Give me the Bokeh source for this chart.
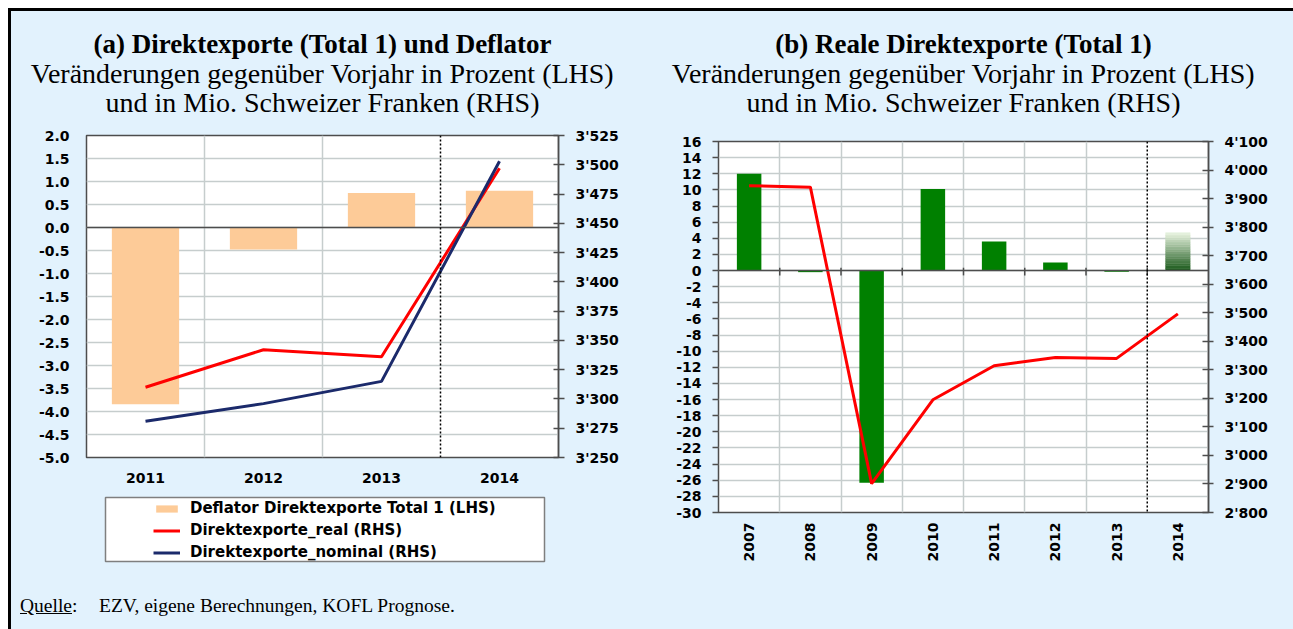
import math
import numpy as np
from bokeh.plotting import figure
from bokeh.models import (Range1d, LinearAxis, FixedTicker, Span, Legend, LegendItem,
                          Title, Div)
from bokeh.layouts import column, row
from bokeh.embed import file_html
from bokeh.resources import INLINE

# ---------------- data ----------------
years_a = ["2011", "2012", "2013", "2014"]
deflator_a = [-3.84, -0.48, 0.75, 0.80]
real_a = [3310, 3342, 3336, 3497]
nominal_a = [3281, 3296, 3315, 3503]
forecast_a = "2014"

years_b = ["2007", "2008", "2009", "2010", "2011", "2012", "2013", "2014"]
growth_b = [12.0, -0.2, -26.3, 10.1, 3.6, 1.0, -0.15, 4.7]
real_b = [3945, 3940, 2901, 3195, 3314, 3343, 3340, 3496]
forecast_b = "2014"

lhs_ticks_a = [x / 2 for x in range(-10, 5)]
rhs_ticks_a = list(range(3250, 3526, 25))
lhs_ticks_b = list(range(-30, 17, 2))
rhs_ticks_b = list(range(2800, 4101, 100))

title_a = ["(a) Direktexporte (Total 1) und Deflator",
           "Veränderungen gegenüber Vorjahr in Prozent (LHS)",
           "und in Mio. Schweizer Franken (RHS)"]
title_b = ["(b) Reale Direktexporte (Total 1)",
           "Veränderungen gegenüber Vorjahr in Prozent (LHS)",
           "und in Mio. Schweizer Franken (RHS)"]
legend_labels = ["Deflator Direktexporte Total 1 (LHS)",
                 "Direktexporte_real (RHS)",
                 "Direktexporte_nominal (RHS)"]

# ---------------- style ----------------
BG = "#E2F2FD"
GRID = "#C6CDCD"
FRAME = "#4D4D4D"
ORANGE = "#FDCB98"
NAVY = "#1B2A6B"
RED = "#FF0000"
GREEN = "#008000"
TICK_FONT = "DejaVu Sans"


def apostrophe(v):
    return f"{int(v):,}".replace(",", "'")


def style_axis(ax):
    ax.major_label_text_font = TICK_FONT
    ax.major_label_text_font_style = "bold"
    ax.major_label_text_font_size = "14px"
    ax.major_label_text_color = "black"
    ax.minor_tick_line_color = None
    ax.axis_line_color = None
    ax.major_tick_line_color = FRAME
    ax.major_tick_line_width = 1.5


def make_title(text, size, style, standoff):
    kw = dict(text=text, align="center", text_font="Liberation Serif",
              text_font_size=size, text_font_style=style, text_color="black")
    try:
        return Title(standoff=standoff, **kw)
    except Exception:
        return Title(standoff=0, **kw)


def add_titles(p, lines, gap):
    # spacer between frame and the title block
    p.add_layout(make_title(" ", "1px", "normal", gap), "above")
    n = len(lines)
    for i, t in enumerate(reversed(lines)):
        bold = (i == n - 1)
        p.add_layout(make_title(t, "27px" if bold else "28px",
                                "bold" if bold else "normal",
                                -3 if bold else -4), "above")


def base_fig(width, height, nx, ylo, yhi, rlo, rhi, mb):
    p = figure(width=width, height=height, title=None,
               x_range=Range1d(-0.5, nx - 0.5), y_range=Range1d(ylo, yhi),
               output_backend="svg", toolbar_location=None,
               min_border_left=mb[0], min_border_right=mb[1],
               min_border_top=mb[2], min_border_bottom=mb[3],
               background_fill_color="white", border_fill_color=BG,
               outline_line_color=FRAME, outline_line_width=1.5)
    p.extra_y_ranges = {"rhs": Range1d(rlo, rhi)}
    p.ygrid.grid_line_color = GRID
    p.ygrid.grid_line_width = 1.5
    p.xgrid.grid_line_color = GRID
    p.xgrid.grid_line_width = 1.5
    return p


# ================= chart (a) =================
xa = list(range(len(years_a)))
p1 = base_fig(629, 480, len(years_a), -5, 2, 3250, 3525, (75, 82, 124, 34))

p1.vbar(x=xa, top=deflator_a, bottom=0, width=0.57, fill_color=ORANGE, line_color=None)
p1.line(xa, real_a, y_range_name="rhs", line_color=RED, line_width=3)
p1.line(xa, nominal_a, y_range_name="rhs", line_color=NAVY, line_width=3)

fa = years_a.index(forecast_a)
p1.xgrid.ticker = FixedTicker(ticks=[i + 0.5 for i in range(len(years_a) - 1) if i + 1 != fa])
p1.add_layout(Span(location=0, dimension="width", line_color=FRAME, line_width=1.5))
p1.add_layout(Span(location=fa - 0.5, dimension="height", line_color="black",
                   line_width=1.5, line_dash="2 2"))

p1.xaxis.ticker = FixedTicker(ticks=xa)
p1.xaxis.major_label_overrides = {i: y for i, y in enumerate(years_a)}
style_axis(p1.xaxis[0])
p1.xaxis.major_tick_line_color = None
p1.xaxis.major_tick_out = 0
p1.xaxis.major_tick_in = 0
p1.xaxis.major_label_standoff = 15

p1.yaxis.ticker = FixedTicker(ticks=lhs_ticks_a)
p1.yaxis.major_label_overrides = {v: f"{v:.1f}" for v in lhs_ticks_a}
style_axis(p1.yaxis[0])
p1.yaxis.major_tick_line_color = None
p1.yaxis.major_tick_out = 0
p1.yaxis.major_tick_in = 0
p1.yaxis.major_label_standoff = 17

rax_a = LinearAxis(y_range_name="rhs", ticker=FixedTicker(ticks=rhs_ticks_a),
                   major_label_overrides={v: apostrophe(v) for v in rhs_ticks_a})
style_axis(rax_a)
rax_a.axis_line_color = FRAME
rax_a.axis_line_width = 1.5
rax_a.major_tick_in = 5
rax_a.major_tick_out = 6
rax_a.major_label_standoff = 11
p1.add_layout(rax_a, "right")

add_titles(p1, title_a, 17)

# ---- legend of chart (a): its own small figure, whose frame is the legend box ----
pl = figure(width=629, height=100, title=None, x_range=Range1d(0, 1), y_range=Range1d(0, 1),
            x_axis_type=None, y_axis_type=None, output_backend="svg",
            toolbar_location=None, min_border_left=94, min_border_right=96,
            min_border_top=6, min_border_bottom=30,
            background_fill_color="white", border_fill_color=BG,
            outline_line_color="#7F7F7F", outline_line_width=1.5)
pl.xgrid.visible = False
pl.ygrid.visible = False
nan = np.array([np.nan])
lg_bar = pl.vbar(x=nan, top=nan, width=0.5, fill_color=ORANGE, line_color=None)
lg_real = pl.line(x=nan, y=nan, line_color=RED, line_width=3)
lg_nom = pl.line(x=nan, y=nan, line_color=NAVY, line_width=3)
legend_a = Legend(items=[LegendItem(label=legend_labels[0], renderers=[lg_bar]),
                         LegendItem(label=legend_labels[1], renderers=[lg_real]),
                         LegendItem(label=legend_labels[2], renderers=[lg_nom])],
                  location=(48, 0), orientation="vertical",
                  padding=0, margin=0, spacing=4,
                  glyph_width=27, glyph_height=9, label_height=17, label_standoff=10,
                  label_text_font=TICK_FONT, label_text_font_style="bold",
                  label_text_font_size="15px", label_text_color="black",
                  border_line_alpha=0, background_fill_alpha=0)
pl.add_layout(legend_a, "center")

# ================= chart (b) =================
xb = list(range(len(years_b)))
p2 = base_fig(653, 580, len(years_b), -30, 16, 2800, 4100, (78, 85, 130, 79))

fb = years_b.index(forecast_b)
hist_x = [x for x in xb if x != fb]
hist_v = [growth_b[x] for x in hist_x]
p2.vbar(x=hist_x, top=hist_v, bottom=0, width=0.4, fill_color=GREEN, line_color=None)

# forecast bar with a vertical gradient (dark green at the base, pale at the top)
n_sl = 16
c0 = (0x1E, 0x5C, 0x1E)
c1 = (0xE4, 0xF0, 0xDC)
v = growth_b[fb]
for k in range(n_sl):
    t = k / (n_sl - 1)
    col = "#%02X%02X%02X" % tuple(int(round(a + (b - a) * t)) for a, b in zip(c0, c1))
    p2.vbar(x=[fb], bottom=[v * k / n_sl], top=[v * (k + 1) / n_sl], width=0.4,
            fill_color=col, line_color=col, line_width=0.5)

p2.line(xb, real_b, y_range_name="rhs", line_color=RED, line_width=3)

bounds_b = [i + 0.5 for i in range(len(years_b) - 1)]
p2.xgrid.ticker = FixedTicker(ticks=[b for b in bounds_b if b != fb - 0.5])
p2.add_layout(Span(location=0, dimension="width", line_color=FRAME, line_width=1.5))
# small category ticks crossing the zero line
p2.segment(x0=bounds_b, x1=bounds_b, y0=[0.35] * len(bounds_b), y1=[-0.6] * len(bounds_b),
           line_color=FRAME, line_width=1.5)
p2.add_layout(Span(location=fb - 0.5, dimension="height", line_color="black",
                   line_width=1.5, line_dash="2 2"))

p2.xaxis.ticker = FixedTicker(ticks=xb)
p2.xaxis.major_label_overrides = {i: y for i, y in enumerate(years_b)}
style_axis(p2.xaxis[0])
p2.xaxis.major_tick_line_color = None
p2.xaxis.major_tick_out = 0
p2.xaxis.major_tick_in = 0
p2.xaxis.major_label_orientation = math.pi / 2
p2.xaxis.major_label_standoff = 10

p2.yaxis.ticker = FixedTicker(ticks=lhs_ticks_b)
p2.yaxis.major_label_overrides = {v: str(v) for v in lhs_ticks_b}
style_axis(p2.yaxis[0])
p2.yaxis.major_tick_in = 0
p2.yaxis.major_tick_out = 6
p2.yaxis.major_label_standoff = 11

rax_b = LinearAxis(y_range_name="rhs", ticker=FixedTicker(ticks=rhs_ticks_b),
                   major_label_overrides={v: apostrophe(v) for v in rhs_ticks_b})
style_axis(rax_b)
rax_b.axis_line_color = FRAME
rax_b.axis_line_width = 1.5
rax_b.major_tick_in = 6
rax_b.major_tick_out = 5
rax_b.major_label_standoff = 11
p2.add_layout(rax_b, "right")

add_titles(p2, title_b, 23)

# ================= source line =================
src = Div(text='<span style="display:inline-block;width:79px"><u>Quelle</u>:</span>'
               'EZV, eigene Berechnungen, KOFL Prognose.',
          width=1282, height=38,
          styles={"font-family": "Liberation Serif", "font-size": "19.5px",
                  "line-height": "16px",
                  "color": "black", "padding-left": "4px", "padding-top": "2px",
                  "background-color": BG})

left = column(column(p1), column(pl))
layout = column(row(left, column(p2)), src,
                styles={"background-color": BG, "border-left": "3px solid black",
                        "border-top": "3px solid black",
                        "margin-left": "8px", "margin-top": "8px"})

open("out.html", "w").write(file_html(layout, INLINE))
